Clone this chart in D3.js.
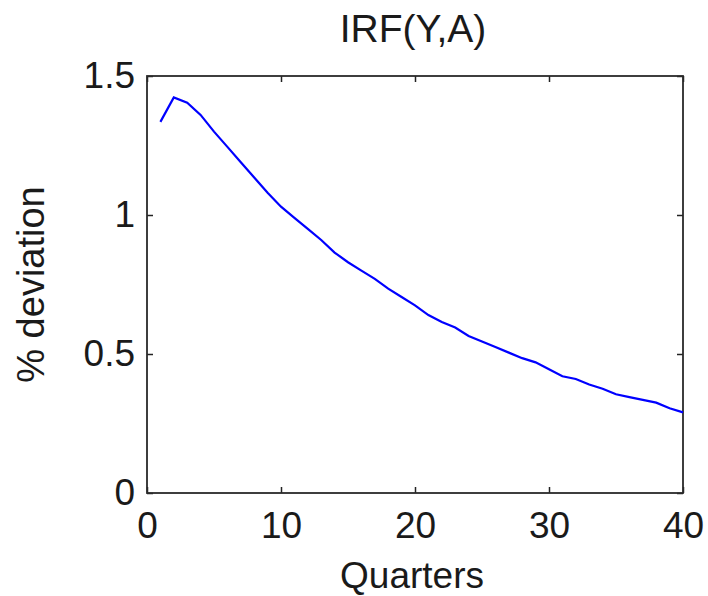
<!DOCTYPE html>
<html>
<head>
<meta charset="utf-8">
<script src="https://cdn.jsdelivr.net/npm/d3@7"></script>
<style>
  body { margin: 0; background: #fff; }
  text { font-family: "Liberation Sans", Arial, sans-serif; fill: #1a1a1a; }
</style>
</head>
<body>
<div id="chart"></div>
<script>
var quarters = d3.range(1, 41);
var irf = [1.335, 1.423, 1.404, 1.36, 1.30, 1.245, 1.19, 1.135, 1.08, 1.03,
           0.99, 0.95, 0.91, 0.865, 0.83, 0.80, 0.77, 0.735, 0.705, 0.675,
           0.64, 0.615, 0.595, 0.565, 0.545, 0.525, 0.505, 0.485, 0.47, 0.445,
           0.42, 0.41, 0.39, 0.375, 0.355, 0.345, 0.335, 0.325, 0.305, 0.29];
var xTicks = [0, 10, 20, 30, 40];
var yTicks = [0, 0.5, 1, 1.5];

var margin = {top: 76, right: 25, bottom: 103, left: 147},
    width = 708 - margin.left - margin.right,
    height = 596 - margin.top - margin.bottom;

var svg = d3.select("#chart")
    .append("svg")
    .attr("width", 708)
    .attr("height", 596)
    .append("g")
    .attr("transform", "translate(" + margin.left + "," + margin.top + ")");

var x = d3.scaleLinear().domain([0, 40]).range([0, width]);
var y = d3.scaleLinear().domain([0, 1.5]).range([height, 0]);

function styleAxis(g, showLabels) {
    g.select(".domain").remove();
    g.selectAll(".tick line").attr("stroke", "#222").attr("stroke-width", 1.5);
    g.selectAll("text").style("font-size", "37px").attr("fill", "#1a1a1a");
    if (!showLabels) g.selectAll("text").remove();
}

svg.append("g")
    .attr("transform", "translate(0," + height + ")")
    .call(d3.axisBottom(x).tickValues(xTicks).tickSize(-6).tickPadding(19).tickFormat(d3.format("d")))
    .call(styleAxis, true);

svg.append("g")
    .call(d3.axisTop(x).tickValues(xTicks).tickSize(-6))
    .call(styleAxis, false);

svg.append("g")
    .call(d3.axisLeft(y).tickValues(yTicks).tickSize(-6).tickPadding(12).tickFormat(function(d){ return d; }))
    .call(styleAxis, true);

svg.append("g")
    .attr("transform", "translate(" + width + ",0)")
    .call(d3.axisRight(y).tickValues(yTicks).tickSize(-6))
    .call(styleAxis, false);

// frame
svg.append("rect")
    .attr("width", width)
    .attr("height", height)
    .attr("fill", "none")
    .attr("stroke", "#2a2a2a")
    .attr("stroke-width", 1.8);

var line = d3.line()
    .x(function(d, i){ return x(quarters[i]); })
    .y(function(d){ return y(d); });

svg.append("path")
    .datum(irf)
    .attr("d", line)
    .attr("fill", "none")
    .attr("stroke", "#0000ff")
    .attr("stroke-width", 2.2);

svg.append("text")
    .attr("x", width / 2 - 2)
    .attr("y", -34)
    .attr("text-anchor", "middle")
    .style("font-size", "39px")
    .text("IRF(Y,A)");

svg.append("text")
    .attr("x", width / 2 - 3)
    .attr("y", height + 95)
    .attr("text-anchor", "middle")
    .style("font-size", "37px")
    .text("Quarters");

svg.append("text")
    .attr("transform", "translate(" + (-103) + "," + (height / 2) + ") rotate(-90)")
    .attr("text-anchor", "middle")
    .style("font-size", "38px")
    .text("% deviation");
</script>
</body>
</html>
